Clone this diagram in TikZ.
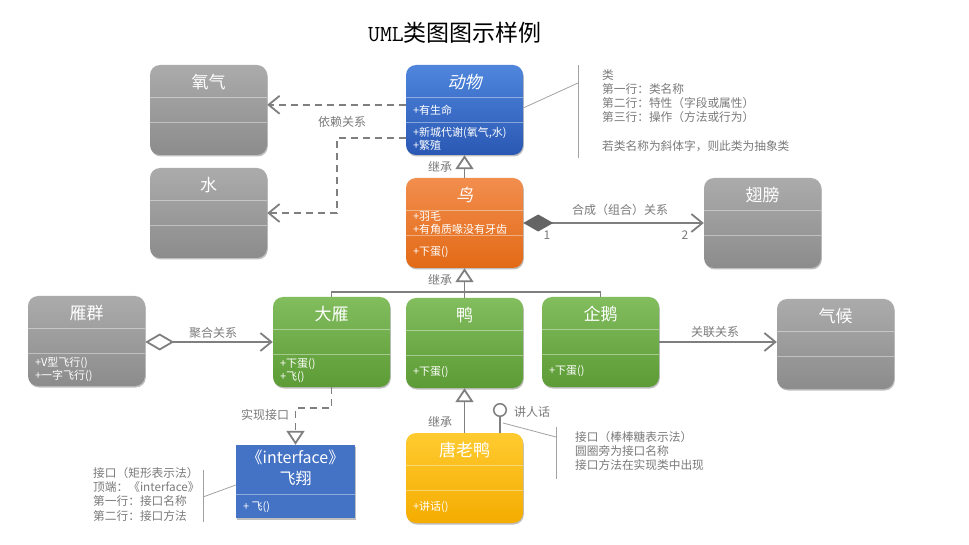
\documentclass[tikz,border=0pt]{standalone}
\usepackage{fontspec}
\setmainfont{Noto Sans CJK SC}
\newfontfamily\slantcjk[FakeSlant=0.22]{Noto Sans CJK SC}
\usetikzlibrary{arrows.meta,calc,shadows}

\definecolor{linegray}{HTML}{7F7F7F}
\definecolor{notegray}{HTML}{7A7A7A}
\definecolor{diagray}{HTML}{646464}
\definecolor{grayT}{HTML}{ABABAB}
\definecolor{grayB}{HTML}{8C8C8C}
\definecolor{blueT}{HTML}{4F86DC}
\definecolor{blueB}{HTML}{2A58B4}
\definecolor{orangeT}{HTML}{F28E4E}
\definecolor{orangeB}{HTML}{E26A16}
\definecolor{greenT}{HTML}{82BD5E}
\definecolor{greenB}{HTML}{5C9B35}
\definecolor{yellowT}{HTML}{FFCB30}
\definecolor{yellowB}{HTML}{F4AC00}
\definecolor{ifblue}{HTML}{4472C4}

\tikzset{
  boxshadow/.style={drop shadow={shadow xshift=0.8pt,shadow yshift=-1.5pt,opacity=0.25,fill=black}},
  classbox/.style={rounded corners=10pt,minimum width=117pt,minimum height=90pt,inner sep=0pt,draw=none,boxshadow},
  graybox/.style={top color=grayT,bottom color=grayB},
  bluebox/.style={top color=blueT,bottom color=blueB},
  orangebox/.style={top color=orangeT,bottom color=orangeB},
  greenbox/.style={top color=greenT,bottom color=greenB},
  yellowbox/.style={top color=yellowT,bottom color=yellowB},
  divider/.style={draw=white,draw opacity=0.4,line width=0.8pt},
  clstitle/.style={text=white,font=\fontsize{17}{20}\selectfont,inner sep=0pt},
  member/.style={text=white,font=\fontsize{11}{13}\selectfont,anchor=west,align=left,inner sep=0pt},
  conn/.style={draw=linegray,line width=1.8pt},
  dep/.style={conn,dash pattern=on 7pt off 5pt},
  openhead/.style={-{Straight Barb[length=11pt,width=18pt]}},
  inherit/.style={-{Triangle[fill=white,length=14pt,width=18pt]}},
  lbl/.style={text=notegray,font=\fontsize{12}{14}\selectfont,inner sep=0pt},
  note/.style={text=notegray,font=\fontsize{11.7}{14.3}\selectfont,align=left,anchor=north west,inner sep=0pt},
  notebar/.style={draw=notegray!70,line width=0.8pt},
}

\newcommand\umlclass[7]{%
  \node[classbox,#4] (#1) at (#2+58.5,#3+45) {};
  \draw[divider] ($(#1.north west)+(0,33)$) -- ($(#1.north east)+(0,33)$);
  \draw[divider] ($(#1.north west)+(0,58)$) -- ($(#1.north east)+(0,58)$);
  \node[clstitle] (#1-t) at ($(#1.north)+(0,17.5)$) {#5};
  \node[member] (#1-a) at ($(#1.north west)+(7,45.5)$) {#6};
  \node[member] (#1-o) at ($(#1.north west)+(7,74)$) {#7};
}

\begin{document}
\begin{tikzpicture}[x=1pt,y=-1pt]
\useasboundingbox[fill=white] (0,0) rectangle (969,545);

% title
\node[font=\fontsize{23}{27}\selectfont,inner sep=0pt] (title) at (455,33) {{\ttfamily UML}类图图示样例};

% classes
\umlclass{oxygen}{150}{65}{graybox}{氧气}{}{}
\umlclass{water}{150}{168}{graybox}{水}{}{}
\umlclass{animal}{406}{65}{bluebox}{\slantcjk 动物}{+有生命}{+新城代谢(氧气,水)\\+繁殖}
\umlclass{bird}{406}{178}{orangebox}{\slantcjk 鸟}{+羽毛\\+有角质喙没有牙齿}{+下蛋()}
\umlclass{wing}{704}{178}{graybox}{翅膀}{}{}
\umlclass{flock}{28}{296}{graybox}{雁群}{}{+V型飞行()\\+一字飞行()}
\umlclass{goose}{273}{297}{greenbox}{大雁}{}{+下蛋()\\+飞()}
\umlclass{duck}{406}{298}{greenbox}{鸭}{}{+下蛋()}
\umlclass{penguin}{542}{297}{greenbox}{企鹅}{}{+下蛋()}
\umlclass{climate}{777}{299}{graybox}{气候}{}{}
\umlclass{donald}{406}{433}{yellowbox}{唐老鸭}{}{+讲话()}

% interface box
\node[fill=ifblue,minimum width=119pt,minimum height=73pt,inner sep=0pt,boxshadow] (fly) at (295.5,481.5) {};
\draw[divider] ($(fly.north west)+(0,50)$) -- ($(fly.north east)+(0,50)$);
\node[text=white,font=\fontsize{16}{21}\selectfont,align=center,inner sep=0pt] (fly-t) at ($(fly.north)+(0,23.5)$) {《interface》\\飞翔};
\node[member] (fly-o) at ($(fly.north west)+(7,62)$) {+ 飞()};

% dependency
\coordinate (dep1) at ($(animal.north west)+(0,40)$);
\draw[dep,openhead] (dep1) -- (dep1 -| oxygen.east);
\coordinate (dep2) at ($(animal.north west)+(0,73)$);
\draw[dep,openhead] (dep2) -- ++(-69,0) |- (water.east);
\node[lbl] (l-dep) at (342,122) {依赖关系};

% inheritance bird -> animal
\draw[conn,inherit] (bird.north) -- (animal.south);
\node[lbl] (l-inh1) at (440,167) {继承};

% composition
\draw[conn,{Diamond[fill=diagray,color=diagray,length=30pt,width=17pt]}-{Straight Barb[length=11pt,width=18pt]}] (bird.east) -- (wing.west);
\node[lbl] (l-comp) at (620,210) {合成（组合）关系};
\node[lbl] (l-one) at (547,235) {1};
\node[lbl] (l-two) at (685,235) {2};

% inheritance tree
\coordinate (junc) at (464.5,292);
\draw[conn] (goose.north) |- (junc);
\draw[conn] (penguin.north) |- (junc);
\draw[conn,inherit] (duck.north) -- (bird.south);
\node[lbl] (l-inh2) at (440,280) {继承};

% aggregation
\draw[conn,{Diamond[fill=white,length=29pt,width=17pt]}-{Straight Barb[length=11pt,width=18pt]}] (goose.west -| flock.east) -- (goose.west);
\node[lbl] (l-agg) at (213,333) {聚合关系};

% association
\draw[conn,openhead] (penguin.east) -- (penguin.east -| climate.west);
\node[lbl] (l-assoc) at (715,332) {关联关系};

% realization
\draw[dep,inherit] (goose.south) -- ++(0,21) -| (fly.north);
\node[lbl] (l-real) at (265,415) {实现接口};

% donald -> duck
\draw[conn,inherit] (donald.north) -- (duck.south);
\node[lbl] (l-inh3) at (440,422) {继承};

% lollipop
\node[circle,draw=linegray,line width=1.5pt,minimum size=12.5pt,inner sep=0pt] (lolli) at (500,410) {};
\draw[conn] (donald.north -| lolli) -- (lolli.south);
\node[lbl] (l-talk) at (532,412) {讲人话};

% note: class
\coordinate (nb1a) at (578,65);
\coordinate (nb1b) at (578,158);
\draw[notebar] (nb1a) -- (nb1b);
\draw[notebar] ($(animal.east)+(0,-2)$) -- (578,83);
\node[note] (note1) at (602,69) {类\\第一行：类名称\\第二行：特性（字段或属性）\\第三行：操作（方法或行为）\\[14.3pt]若类名称为斜体字，则此类为抽象类};

% note: lollipop
\coordinate (nb2a) at (556,427);
\coordinate (nb2b) at (556,479);
\draw[notebar] (nb2a) -- (nb2b);
\coordinate (lstem) at (503,423);
\draw[notebar] (lstem) -- (556,437);
\node[note] (note2) at (575,431) {接口（棒棒糖表示法）\\圆圈旁为接口名称\\接口方法在实现类中出现};

% note: interface
\coordinate (nb3a) at (203,470);
\coordinate (nb3b) at (203,522);
\draw[notebar] (nb3a) -- (nb3b);
\draw[notebar] ($(fly.west)+(0,3.5)$) -- (203,497);
\node[note] (note3) at (93,467) {接口（矩形表示法）\\顶端：《interface》\\第一行：接口名称\\第二行：接口方法};
\end{tikzpicture}
\end{document}
